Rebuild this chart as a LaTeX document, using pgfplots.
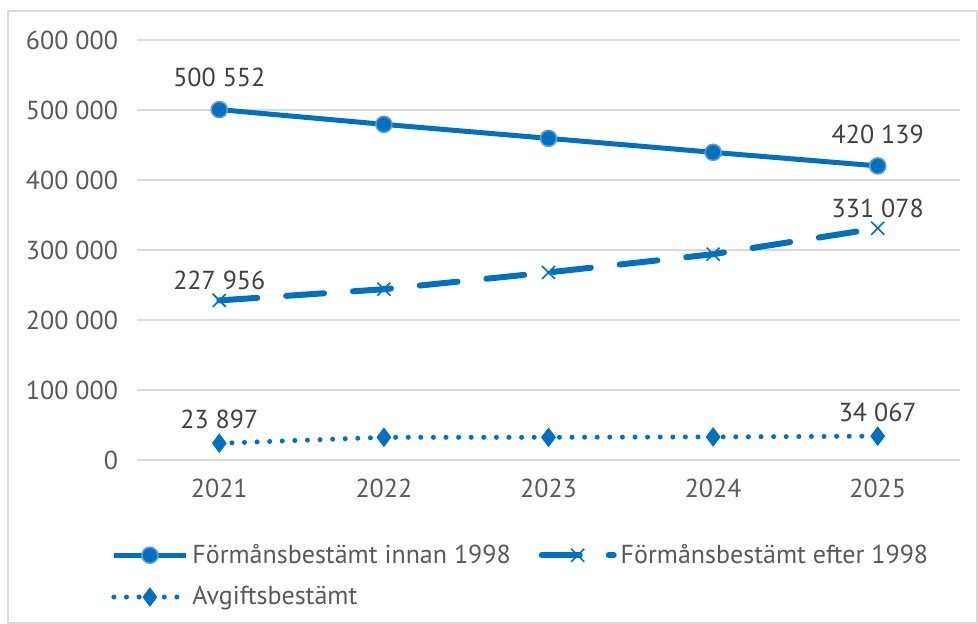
\documentclass[border=0pt]{standalone}
\usepackage{pgfplots}
\pgfplotsset{compat=1.18}
\usepackage{fontspec}
\setmainfont{PT Sans}
\definecolor{ser}{HTML}{0070C0}
\definecolor{serl}{HTML}{5B9BD5}
\definecolor{tickc}{HTML}{595959}
\definecolor{lab}{HTML}{404040}
\definecolor{gridc}{HTML}{D9D9D9}
\begin{document}
\begin{tikzpicture}
\useasboundingbox (0,0) rectangle (489pt,-312pt);
\draw[gridc, line width=0.6pt] (4pt,-5.5pt) rectangle (488.5pt,-311.5pt);
\begin{axis}[
  at={(68.5pt,-230pt)}, anchor=south west,
  scale only axis, width=411.5pt, height=210pt,
  xmin=-0.5, xmax=4.5, ymin=0, ymax=600000,
  xtick={0,1,2,3,4}, xticklabels={2021,2022,2023,2024,2025},
  ytick={0,100000,200000,300000,400000,500000,600000},
  yticklabels={0,100 000,200 000,300 000,400 000,500 000,600 000},
  scaled y ticks=false,
  axis line style={draw=none},
  major tick length=0pt,
  xmajorgrids=false, ymajorgrids=true, grid style={color=gridc, line width=0.8pt},
  tick label style={font=\fontsize{13}{15}\selectfont, text=tickc},
  yticklabel style={xshift=-6pt},
  xticklabel style={yshift=-6pt},
  clip=false,
  every node near coord/.append style={font=\fontsize{13}{15}\selectfont, text=lab, anchor=center},
  nodes near coords, point meta=explicit symbolic,
  legend columns=2,
  legend style={at={(-0.0316,-0.19)}, anchor=north west, draw=none, fill=none,
    font=\fontsize{13}{15}\selectfont, text=tickc, inner sep=0pt,
    /tikz/every even column/.append style={column sep=12pt},
    row sep=6pt},
  legend cell align=left,
  legend image code/.code={\draw[#1, mark repeat=2, mark phase=2] plot coordinates {(0pt,0pt) (18pt,0pt) (36pt,0pt)};},
]
\addplot[ser, line width=2.5pt, mark=*, mark size=4pt,
  mark options={fill=ser, draw=serl, line width=0.8pt},
  nodes near coords style={yshift=16pt}]
  coordinates {(0,500552)[500 552] (1,479500)[] (2,459500)[] (3,439500)[] (4,420139)[420 139]};
\addlegendentry{Förmånsbestämt innan 1998}
\addplot[ser, line width=3pt, dash pattern=on 19pt off 14.5pt, line cap=round, mark=x, mark size=4.6pt,
  mark options={solid, line width=0.8pt, line cap=butt},
  nodes near coords style={yshift=10pt}]
  coordinates {(0,227956)[227 956] (1,244000)[] (2,268000)[] (3,294000)[] (4,331078)[331 078]};
\addlegendentry{Förmånsbestämt efter 1998}
\addplot[ser, line width=2.5pt, dash pattern=on 0pt off 6.3pt, line cap=round, mark=diamond*, mark size=4.6pt,
  mark options={solid, fill=ser, line width=0.4pt},
  nodes near coords style={yshift=12pt}]
  coordinates {(0,23897)[23 897] (1,32400)[] (2,32400)[] (3,33000)[] (4,34067)[34 067]};
\addlegendentry{Avgiftsbestämt}
\end{axis}
\end{tikzpicture}
\end{document}
